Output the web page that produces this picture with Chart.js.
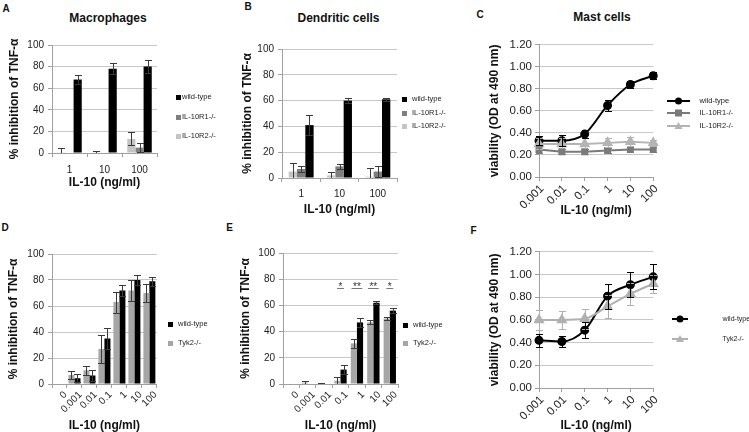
<!DOCTYPE html>
<html>
<head>
<meta charset="utf-8">
<script src="https://cdn.jsdelivr.net/npm/chart.js@4.4.1/dist/chart.umd.min.js"></script>
<style>
  body { margin: 0; width: 749px; height: 432px; position: relative; overflow: hidden; background: #fff;
         font-family: "Liberation Sans", Arial, sans-serif; color: #111; }
  canvas { position: absolute; }
  .txt { position: absolute; white-space: nowrap; transform: translate(-50%, -50%); line-height: 1; }
  .title { font-weight: bold; font-size: 12px; }
  .letter { font-weight: bold; font-size: 10px; }
</style>
</head>
<body>
<script>
// ---- data ----
const barDoses = ['1', '10', '100'];
const doses6 = ['0.001', '0.01', '0.1', '1', '10', '100'];
const doses7 = ['0', '0.001', '0.01', '0.1', '1', '10', '100'];
const pctTicks = [0, 20, 40, 60, 80, 100];
const odTicks = [0, 0.2, 0.4, 0.6, 0.8, 1.0, 1.2];
const odTickLabels = ['0.00', '0.20', '0.40', '0.60', '0.80', '1.00', '1.20'];

// A - macrophages
const macWT = [68, 78, 80];
const macWTErr = [4, 5, 6];
const macR1 = [0, 0, 5];
const macR1Err = [0, 0, 4];
const macR2 = [0.3, 0.3, 13];
const macR2Err = [4, 2, 6];

// B - dendritic cells
const dcWT = [41, 60, 61];
const dcWTErr = [7.5, 2, 1];
const dcR1 = [7, 9, 5];
const dcR1Err = [2, 2, 4];
const dcR2 = [5, 2, 1];
const dcR2Err = [7, 3, 7];

// C - mast cells viability
const mastWT = [0.33, 0.33, 0.39, 0.65, 0.84, 0.92];
const mastWTErr = [0.04, 0.05, 0.04, 0.05, 0.03, 0.03];
const mastR1 = [0.25, 0.23, 0.23, 0.24, 0.25, 0.25];
const mastR1Err = [0.03, 0.02, 0.02, 0.02, 0.02, 0.02];
const mastR2 = [0.30, 0.30, 0.30, 0.31, 0.32, 0.31];
const mastR2Err = [0.05, 0.05, 0.05, 0.04, 0.04, 0.03];

// D - macrophages, Tyk2
const dWT = [0, 4.5, 6.5, 35, 72, 80, 79];
const dWTErr = [0, 3, 4.5, 8, 4.5, 4, 3.5];
const dTyk = [0, 7, 10.5, 27, 63, 72, 70];
const dTykErr = [0, 3, 3.5, 11, 8, 8, 7];

// E - dendritic cells, Tyk2
const eWT = [0, 0, 0, 11, 47, 62, 56];
const eWTErr = [0, 0, 0, 3.5, 3.5, 1, 2];
const eTyk = [0, 1, 0.5, 2.5, 31, 47, 50];
const eTykErr = [0, 1, 0.3, 2.5, 3.5, 1.5, 1];
const sigIndex = [3, 4, 5, 6];
const sigMarks = ['*', '**', '**', '*'];
const sigLevel = 73;

// F - mast cells viability, Tyk2
const fWT = [0.42, 0.41, 0.51, 0.81, 0.91, 0.98];
const fWTErr = [0.06, 0.05, 0.07, 0.11, 0.11, 0.11];
const fTyk = [0.60, 0.60, 0.61, 0.72, 0.83, 0.92];
const fTykErr = [0.09, 0.08, 0.09, 0.10, 0.10, 0.08];

const BLACK = '#000000', DARK = '#7f7f7f', LIGHT = '#c4c4c4', TYK = '#a6a6a6';
const AXIS = '#a0a0a0', GRID = '#c8c8c8';
const FONT = '"Liberation Sans", Arial, sans-serif';

Chart.defaults.font.family = FONT;
Chart.defaults.color = '#222';

// error bars drawn on top of each dataset element
const errorBars = {
    id: 'errorBars',
    afterDatasetsDraw(chart) {
        const { ctx, chartArea, scales } = chart;
        ctx.save();
        ctx.beginPath();
        ctx.rect(0, chartArea.top - 20, chart.width, chartArea.bottom - chartArea.top + 20);
        ctx.clip();
        chart.data.datasets.forEach((ds, di) => {
            if (!ds.errors) return;
            const meta = chart.getDatasetMeta(di);
            ctx.strokeStyle = ds.errorColor || '#333';
            ctx.lineWidth = 1;
            meta.data.forEach((el, i) => {
                const err = ds.errors[i];
                if (!err) return;
                const x = Math.round(el.x) + 0.5;
                const yTop = Math.round(scales.y.getPixelForValue(ds.data[i] + err)) + 0.5;
                const yBot = Math.round(scales.y.getPixelForValue(ds.data[i] - err)) + 0.5;
                const w = ds.capWidth / 2;
                ctx.beginPath();
                ctx.moveTo(x, yTop); ctx.lineTo(x, yBot);
                ctx.moveTo(x - w, yTop); ctx.lineTo(x + w, yTop);
                ctx.moveTo(x - w, yBot); ctx.lineTo(x + w, yBot);
                ctx.stroke();
            });
        });
        ctx.restore();
    }
};

// significance stars for panel E
const sigStars = {
    id: 'sigStars',
    afterDatasetsDraw(chart) {
        const { ctx, scales: { x, y } } = chart;
        ctx.save();
        ctx.font = '10px ' + FONT;
        ctx.textAlign = 'center';
        ctx.textBaseline = 'alphabetic';
        ctx.fillStyle = '#333';
        ctx.strokeStyle = '#777';
        ctx.lineWidth = 1;
        sigIndex.forEach((ci, k) => {
            const cx = x.getPixelForValue(ci);
            const ly = Math.round(y.getPixelForValue(sigLevel)) + 0.5;
            const w = ctx.measureText(sigMarks[k]).width + 3;
            ctx.beginPath();
            ctx.moveTo(cx - w / 2, ly); ctx.lineTo(cx + w / 2, ly);
            ctx.stroke();
            ctx.fillText(sigMarks[k], cx, ly + 1.5);
        });
        ctx.restore();
    }
};

function barSet(label, data, errors, color, catPct) {
    return {
        label, data, errors, backgroundColor: color, errorColor: '#3a3a3a', capWidth: 7,
        barPercentage: 1, categoryPercentage: catPct
    };
}

function lineSet(label, data, errors, color, style, smooth) {
    return {
        label, data, errors, borderColor: color, backgroundColor: color, errorColor: color, capWidth: 7,
        pointStyle: style, pointRadius: style === 'triangle' ? 4.5 : 3.5, borderWidth: 2,
        cubicInterpolationMode: smooth ? 'monotone' : 'default', tension: 0, clip: false
    };
}

function makePanel(p) {
    const padTop = 8, padRight = 2;
    const top = p.area.top - padTop;
    const canvas = document.createElement('canvas');
    canvas.width = p.area.right + padRight - p.left;
    canvas.height = p.bottom - top;
    canvas.style.left = p.left + 'px';
    canvas.style.top = top + 'px';
    document.body.appendChild(canvas);
    const isBar = p.type === 'bar';
    const od = !!p.od;
    return new Chart(canvas, {
        type: p.type,
        data: { labels: p.labels, datasets: p.datasets },
        plugins: [errorBars].concat(p.plugins || []),
        options: {
            responsive: false,
            animation: false,
            devicePixelRatio: 1,
            layout: { padding: { top: padTop, right: padRight, left: 0, bottom: 0 } },
            plugins: { legend: { display: false }, tooltip: { enabled: false } },
            scales: {
                x: {
                    offset: isBar,
                    afterFit: s => { s.height = p.bottom - p.area.bottom; },
                    ticks: {
                        autoSkip: false, maxRotation: p.rot, minRotation: p.rot,
                        font: { size: p.tickSize }, padding: p.xTickPad, labelOffset: p.labelOffset || 0
                    },
                    grid: { drawOnChartArea: false, color: AXIS, tickLength: 4, offset: isBar },
                    border: { color: AXIS },
                    title: {
                        display: true, text: 'IL-10 (ng/ml)', color: '#111',
                        font: { size: 12, weight: 'bold', lineHeight: 1 },
                        padding: { top: 0, bottom: p.xTitlePad }
                    }
                },
                y: {
                    min: 0,
                    max: od ? 1.2 : 100,
                    afterBuildTicks: s => { s.ticks = (od ? odTicks : pctTicks).map(v => ({ value: v })); },
                    afterFit: s => { s.width = p.area.left - p.left; },
                    ticks: {
                        font: { size: p.tickSize }, padding: p.yTickPad,
                        callback: (v, i) => od ? odTickLabels[i] : String(pctTicks[i])
                    },
                    grid: { color: GRID, tickColor: AXIS, tickLength: 4 },
                    border: { color: AXIS },
                    title: {
                        display: true, color: '#111',
                        text: od ? 'viability (OD at 490 nm)' : '% inhibition of TNF-\u03b1',
                        font: { size: 12, weight: 'bold', lineHeight: 1 },
                        padding: { top: p.yTitlePad, bottom: 0 }
                    }
                }
            }
        }
    });
}

// A
makePanel({
    type: 'bar', labels: barDoses, left: 0, bottom: 190,
    area: { left: 52, top: 43, right: 157, bottom: 153 },
    rot: 0, tickSize: 10, xTickPad: 7, yTickPad: 4, yTitlePad: 9, xTitlePad: 1,
    datasets: [
        barSet('IL-10R2-/-', macR2, macR2Err, LIGHT, 0.7),
        barSet('IL-10R1-/-', macR1, macR1Err, DARK, 0.7),
        barSet('wild-type', macWT, macWTErr, BLACK, 0.7)
    ]
});

// B
makePanel({
    type: 'bar', labels: barDoses, left: 236, bottom: 217,
    area: { left: 282, top: 47, right: 397, bottom: 178 },
    rot: 0, tickSize: 10, xTickPad: 6, yTickPad: 4, yTitlePad: 6, xTitlePad: 1,
    datasets: [
        barSet('IL-10R2-/-', dcR2, dcR2Err, LIGHT, 0.65),
        barSet('IL-10R1-/-', dcR1, dcR1Err, DARK, 0.65),
        barSet('wild-type', dcWT, dcWTErr, BLACK, 0.65)
    ]
});

// C
makePanel({
    type: 'line', labels: doses6, left: 483, bottom: 218, od: true,
    area: { left: 539, top: 43, right: 662, bottom: 177 },
    rot: 45, tickSize: 11.5, xTickPad: 1, labelOffset: 3, yTickPad: 3, yTitlePad: 6, xTitlePad: 1,
    datasets: [
        lineSet('IL-10R2-/-', mastR2, mastR2Err, '#b4b4b4', 'triangle', false),
        lineSet('IL-10R1-/-', mastR1, mastR1Err, '#7a7a7a', 'rect', false),
        lineSet('wild-type', mastWT, mastWTErr, BLACK, 'circle', true)
    ]
});

// D
makePanel({
    type: 'bar', labels: doses7, left: 0, bottom: 432,
    area: { left: 52, top: 252, right: 157, bottom: 384 },
    rot: 45, tickSize: 10, xTickPad: 1, labelOffset: 6, yTickPad: 4, yTitlePad: 8, xTitlePad: 0,
    datasets: [
        barSet('Tyk2-/-', dTyk, dTykErr, TYK, 0.8),
        barSet('wild-type', dWT, dWTErr, BLACK, 0.8)
    ]
});

// E
makePanel({
    type: 'bar', labels: doses7, left: 234, bottom: 432,
    area: { left: 283, top: 251, right: 398, bottom: 384 },
    rot: 45, tickSize: 10, xTickPad: 1, labelOffset: 6, yTickPad: 4, yTitlePad: 6, xTitlePad: 0,
    plugins: [sigStars],
    datasets: [
        barSet('Tyk2-/-', eTyk, eTykErr, TYK, 0.75),
        barSet('wild-type', eWT, eWTErr, BLACK, 0.75)
    ]
});

// F
makePanel({
    type: 'line', labels: doses6, left: 482, bottom: 432, od: true,
    area: { left: 539, top: 250, right: 662, bottom: 388 },
    rot: 45, tickSize: 11.5, xTickPad: 1, labelOffset: 3, yTickPad: 3, yTitlePad: 6.5, xTitlePad: 0,
    datasets: [
        lineSet('Tyk2-/-', fTyk, fTykErr, '#b0b0b0', 'triangle', true),
        lineSet('wild-type', fWT, fWTErr, BLACK, 'circle', true)
    ]
});

// ---- titles and panel letters ----
function addText(cls, text, x, y) {
    const d = document.createElement('div');
    d.className = 'txt ' + cls;
    d.textContent = text;
    d.style.left = x + 'px';
    d.style.top = y + 'px';
    document.body.appendChild(d);
}

addText('title', 'Macrophages', 108, 17.5);
addText('title', 'Dendritic cells', 338.5, 17.5);
addText('title', 'Mast cells', 602, 17);
addText('letter', 'A', 6, 9);
addText('letter', 'B', 248, 7);
addText('letter', 'C', 480, 15);
addText('letter', 'D', 5, 228);
addText('letter', 'E', 229.5, 228);
addText('letter', 'F', 473.5, 231);

// ---- legends on one overlay canvas ----
const legCanvas = document.createElement('canvas');
legCanvas.width = 749;
legCanvas.height = 432;
legCanvas.style.left = '0px';
legCanvas.style.top = '0px';
document.body.appendChild(legCanvas);
const lg = legCanvas.getContext('2d');
lg.textBaseline = 'middle';
lg.fillStyle = '#222';

function legendText(text, x, y, size) {
    lg.font = size + 'px ' + FONT;
    lg.fillStyle = '#222';
    lg.fillText(text, x, y);
}
function barLegend(items, mx, tx, ys) {
    items.forEach((it, i) => {
        lg.fillStyle = it.color;
        lg.fillRect(Math.round(mx - 2.5), Math.round(ys[i] - 2.5), 5, 5);
        legendText(it.label, tx, ys[i], 7.5);
    });
}
function lineLegend(items, x1, x2, tx, ys, size) {
    items.forEach((it, i) => {
        const y = ys[i], cx = (x1 + x2) / 2;
        lg.strokeStyle = it.color;
        lg.fillStyle = it.color;
        lg.lineWidth = 2;
        lg.beginPath(); lg.moveTo(x1, y); lg.lineTo(x2, y); lg.stroke();
        lg.beginPath();
        if (it.marker === 'circle') lg.arc(cx, y, 3.5, 0, Math.PI * 2);
        if (it.marker === 'rect') lg.rect(cx - 3.5, y - 3.5, 7, 7);
        if (it.marker === 'triangle') { lg.moveTo(cx, y - 4); lg.lineTo(cx + 4, y + 3); lg.lineTo(cx - 4, y + 3); lg.closePath(); }
        lg.fill();
        legendText(it.label, tx, y, size);
    });
}

const koItems = [
    { label: 'wild-type', color: BLACK },
    { label: 'IL-10R1-/-', color: DARK },
    { label: 'IL-10R2-/-', color: LIGHT }
];
const tykItems = [
    { label: 'wild-type', color: BLACK },
    { label: 'Tyk2-/-', color: TYK }
];
barLegend(koItems, 178, 182, [97, 117, 136]);
barLegend(koItems, 404, 412, [99, 113, 126]);
barLegend(tykItems, 170, 178, [324, 343]);
barLegend(tykItems, 405.5, 413, [325, 343]);
lineLegend([
    { label: 'wild-type', color: BLACK, marker: 'circle' },
    { label: 'IL-10R1-/-', color: '#7a7a7a', marker: 'rect' },
    { label: 'IL-10R2-/-', color: '#b4b4b4', marker: 'triangle' }
], 667, 690, 699.5, [101, 113, 126], 7.5);
lineLegend([
    { label: 'wild-type', color: BLACK, marker: 'circle' },
    { label: 'Tyk2-/-', color: '#b0b0b0', marker: 'triangle' }
], 672, 688, 722.5, [319, 339], 7);
</script>
</body>
</html>
